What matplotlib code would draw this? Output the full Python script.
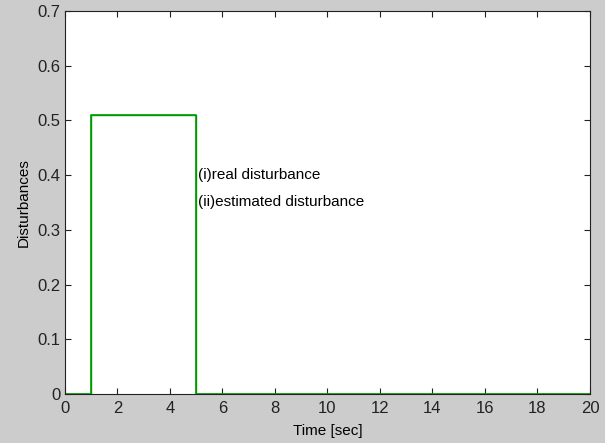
import matplotlib
matplotlib.use('Agg')
import matplotlib.pyplot as plt

# disturbance profile (step)
t = [0, 1, 1, 5, 5, 20]
d_real = [0, 0, 0.51, 0.51, 0, 0]
d_est = [0, 0, 0.51, 0.51, 0, 0]

plt.rcParams['font.family'] = ['Liberation Sans', 'DejaVu Sans']

fig = plt.figure(figsize=(6.05, 4.43), dpi=100, facecolor='#cccccc')
ax = fig.add_axes([0.1074, 0.1106, 0.8678, 0.8646])
ax.plot(t, d_real, color='#00a000', lw=1.2)
ax.plot(t, d_est, color='#009900', lw=1.0)
ax.text(5.05, 0.40, '(i)real disturbance', fontsize=11, va='center')
ax.text(5.05, 0.35, '(ii)estimated disturbance', fontsize=11, va='center')

ax.set_xlim(0, 20)
ax.set_ylim(0, 0.7)
ax.set_xticks(range(0, 21, 2))
ax.set_yticks([0, 0.1, 0.2, 0.3, 0.4, 0.5, 0.6, 0.7])
ax.set_yticklabels(['0', '0.1', '0.2', '0.3', '0.4', '0.5', '0.6', '0.7'])
ax.tick_params(direction='in', top=True, right=True, labelsize=12, length=4, colors='#222222')
ax.tick_params(axis='x', pad=5)
ax.tick_params(axis='y', pad=3)
ax.set_xlabel('Time [sec]', fontsize=11, labelpad=6)
ax.set_ylabel('Disturbances', fontsize=11, labelpad=5)
for s in ax.spines.values():
    s.set_color('#222222')
plt.savefig('out.png', facecolor=fig.get_facecolor())
